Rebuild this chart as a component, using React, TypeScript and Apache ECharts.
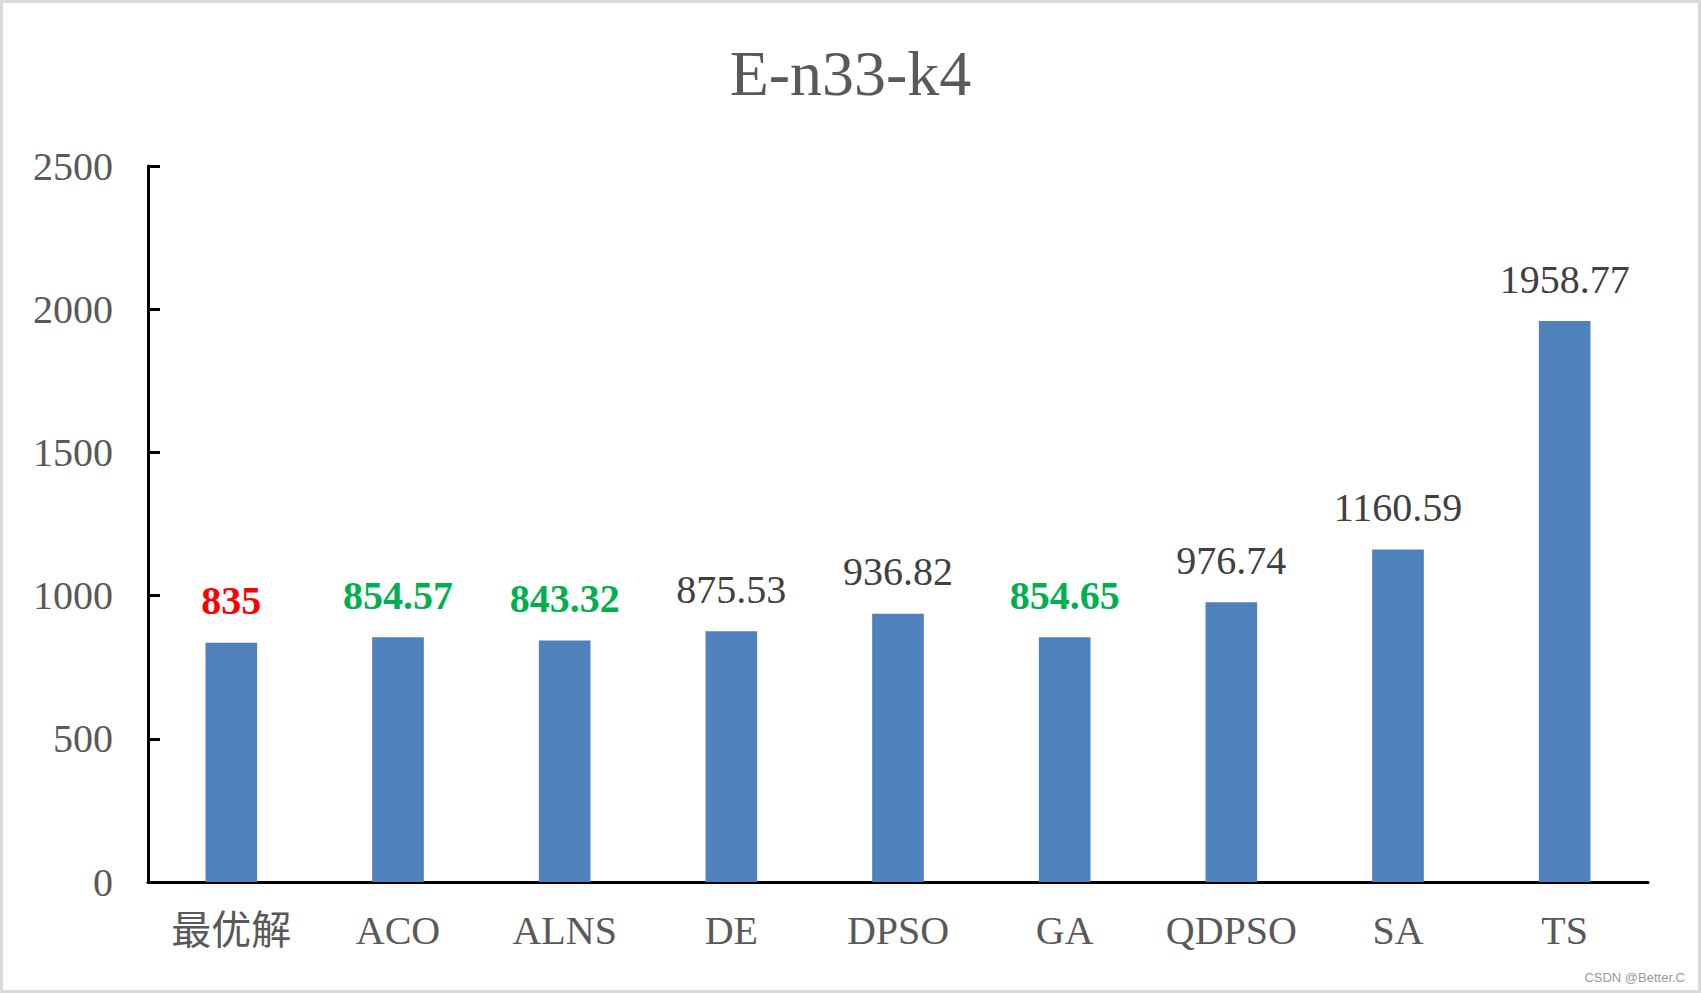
import React, { useEffect, useRef } from "react";
import * as echarts from "echarts";

const categories = ["最优解", "ACO", "ALNS", "DE", "DPSO", "GA", "QDPSO", "SA", "TS"];
const values = [835, 854.57, 843.32, 875.53, 936.82, 854.65, 976.74, 1160.59, 1958.77];
const labelColors = ["#ff0000", "#00b050", "#00b050", "#404040", "#404040", "#00b050", "#404040", "#404040", "#404040"];
const labelBold = [true, true, true, false, false, true, false, false, false];
const yTicks = [0, 500, 1000, 1500, 2000, 2500];

const SERIF = "'Liberation Serif', 'Times New Roman', 'Noto Sans CJK SC', serif";

export default function App() {
  const ref = useRef<HTMLDivElement>(null);
  useEffect(() => {
    if (!ref.current) return;
    const chart = echarts.init(ref.current, null, { renderer: "svg" });
    chart.setOption({
      animation: false,
      backgroundColor: "#ffffff",
      title: {
        text: "E-n33-k4",
        left: "center",
        top: 36,
        textStyle: { fontFamily: SERIF, fontSize: 64, fontWeight: "normal", color: "#595959" },
      },
      grid: { left: 148, right: 53, top: 166, bottom: 111, containLabel: false },
      xAxis: {
        type: "category",
        data: categories,
        axisLine: { lineStyle: { color: "#000000", width: 3 } },
        axisTick: { show: false },
        axisLabel: { interval: 0, fontFamily: SERIF, fontSize: 40, color: "#595959", margin: 28 },
      },
      yAxis: {
        type: "value",
        min: yTicks[0],
        max: yTicks[yTicks.length - 1],
        interval: 500,
        splitLine: { show: false },
        axisLine: { show: true, lineStyle: { color: "#000000", width: 3 } },
        axisTick: { show: true, inside: true, length: 12, lineStyle: { color: "#000000", width: 3 } },
        axisLabel: {
          fontFamily: SERIF,
          fontSize: 40,
          color: "#595959",
          margin: 35,
          formatter: (v: number) => String(v),
        },
      },
      series: [
        {
          type: "bar",
          barWidth: "31%",
          itemStyle: { color: "#4f81bd" },
          data: values.map((v, i) => ({
            value: v,
            label: {
              show: true,
              position: "top",
              distance: 22,
              fontFamily: SERIF,
              fontSize: 40,
              color: labelColors[i],
              fontWeight: labelBold[i] ? "bold" : "normal",
              formatter: String(v),
            },
          })),
        },
      ],
      graphic: [
        {
          type: "rect",
          shape: { x: 1.5, y: 1.5, width: 1698, height: 990 },
          style: { fill: "none", stroke: "#d9d9d9", lineWidth: 3 },
          silent: true,
        },
        {
          type: "text",
          right: 16,
          bottom: 9,
          style: { text: "CSDN @Better.C", fontFamily: "'Liberation Sans', Arial, sans-serif", fontSize: 13, fill: "#999999" },
          silent: true,
        },
      ],
    });
    return () => chart.dispose();
  }, []);
  return (
    <div
      ref={ref}
      style={{ position: "fixed", left: 0, top: 0, width: 1701, height: 993, background: "#fff" }}
    />
  );
}
